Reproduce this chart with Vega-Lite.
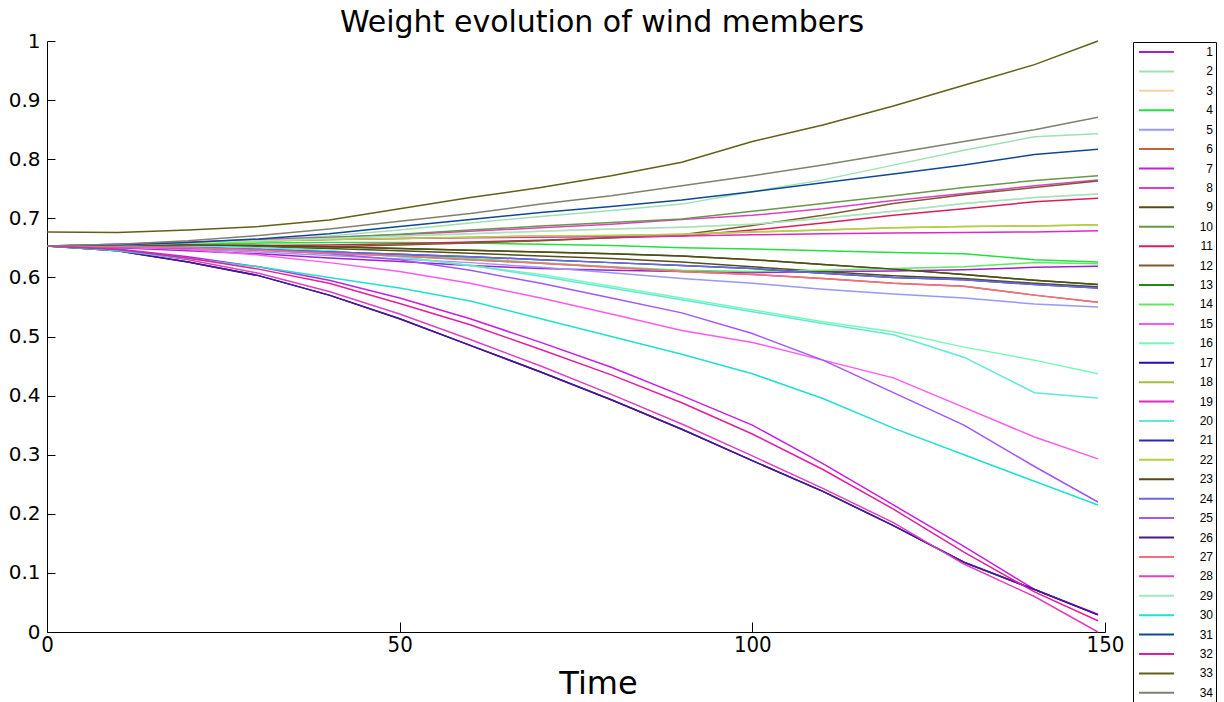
{
  "$schema": "https://vega.github.io/schema/vega-lite/v6.json",
  "width": 1058,
  "height": 591,
  "autosize": {"type": "none"},
  "padding": {"left": 47, "top": 41, "right": 119, "bottom": 70},
  "background": "white",
  "title": {"text": "Weight evolution of wind members", "font": "DejaVu Sans", "fontSize": 30, "fontWeight": "normal", "color": "black", "offset": -7, "dx": 26},
  "config": {"view": {"stroke": null}},
  "data": {"values": [
{"m":1,"t":0,"v":0.653},{"m":1,"t":10,"v":0.650},{"m":1,"t":20,"v":0.645},{"m":1,"t":30,"v":0.640},{"m":1,"t":40,"v":0.633},{"m":1,"t":50,"v":0.627},{"m":1,"t":60,"v":0.620},{"m":1,"t":70,"v":0.615},{"m":1,"t":80,"v":0.612},{"m":1,"t":90,"v":0.610},{"m":1,"t":100,"v":0.608},{"m":1,"t":110,"v":0.610},{"m":1,"t":120,"v":0.611},{"m":1,"t":130,"v":0.613},{"m":1,"t":140,"v":0.617},{"m":1,"t":149,"v":0.619},
{"m":2,"t":0,"v":0.653},{"m":2,"t":10,"v":0.655},{"m":2,"t":20,"v":0.658},{"m":2,"t":30,"v":0.663},{"m":2,"t":40,"v":0.670},{"m":2,"t":50,"v":0.680},{"m":2,"t":60,"v":0.692},{"m":2,"t":70,"v":0.703},{"m":2,"t":80,"v":0.713},{"m":2,"t":90,"v":0.724},{"m":2,"t":100,"v":0.745},{"m":2,"t":110,"v":0.765},{"m":2,"t":120,"v":0.790},{"m":2,"t":130,"v":0.815},{"m":2,"t":140,"v":0.838},{"m":2,"t":149,"v":0.843},
{"m":3,"t":0,"v":0.653},{"m":3,"t":10,"v":0.655},{"m":3,"t":20,"v":0.658},{"m":3,"t":30,"v":0.662},{"m":3,"t":40,"v":0.666},{"m":3,"t":50,"v":0.670},{"m":3,"t":60,"v":0.674},{"m":3,"t":70,"v":0.678},{"m":3,"t":80,"v":0.682},{"m":3,"t":90,"v":0.685},{"m":3,"t":100,"v":0.690},{"m":3,"t":110,"v":0.700},{"m":3,"t":120,"v":0.712},{"m":3,"t":130,"v":0.725},{"m":3,"t":140,"v":0.735},{"m":3,"t":149,"v":0.741},
{"m":4,"t":0,"v":0.653},{"m":4,"t":10,"v":0.655},{"m":4,"t":20,"v":0.657},{"m":4,"t":30,"v":0.658},{"m":4,"t":40,"v":0.659},{"m":4,"t":50,"v":0.659},{"m":4,"t":60,"v":0.658},{"m":4,"t":70,"v":0.656},{"m":4,"t":80,"v":0.654},{"m":4,"t":90,"v":0.650},{"m":4,"t":100,"v":0.648},{"m":4,"t":110,"v":0.645},{"m":4,"t":120,"v":0.642},{"m":4,"t":130,"v":0.640},{"m":4,"t":140,"v":0.630},{"m":4,"t":149,"v":0.626},
{"m":5,"t":0,"v":0.653},{"m":5,"t":10,"v":0.651},{"m":5,"t":20,"v":0.648},{"m":5,"t":30,"v":0.643},{"m":5,"t":40,"v":0.637},{"m":5,"t":50,"v":0.631},{"m":5,"t":60,"v":0.625},{"m":5,"t":70,"v":0.617},{"m":5,"t":80,"v":0.608},{"m":5,"t":90,"v":0.598},{"m":5,"t":100,"v":0.590},{"m":5,"t":110,"v":0.580},{"m":5,"t":120,"v":0.572},{"m":5,"t":130,"v":0.565},{"m":5,"t":140,"v":0.555},{"m":5,"t":149,"v":0.550},
{"m":6,"t":0,"v":0.653},{"m":6,"t":10,"v":0.652},{"m":6,"t":20,"v":0.650},{"m":6,"t":30,"v":0.646},{"m":6,"t":40,"v":0.641},{"m":6,"t":50,"v":0.636},{"m":6,"t":60,"v":0.630},{"m":6,"t":70,"v":0.624},{"m":6,"t":80,"v":0.617},{"m":6,"t":90,"v":0.610},{"m":6,"t":100,"v":0.605},{"m":6,"t":110,"v":0.598},{"m":6,"t":120,"v":0.590},{"m":6,"t":130,"v":0.585},{"m":6,"t":140,"v":0.570},{"m":6,"t":149,"v":0.558},
{"m":7,"t":0,"v":0.653},{"m":7,"t":10,"v":0.648},{"m":7,"t":20,"v":0.635},{"m":7,"t":30,"v":0.618},{"m":7,"t":40,"v":0.595},{"m":7,"t":50,"v":0.565},{"m":7,"t":60,"v":0.530},{"m":7,"t":70,"v":0.490},{"m":7,"t":80,"v":0.448},{"m":7,"t":90,"v":0.400},{"m":7,"t":100,"v":0.350},{"m":7,"t":110,"v":0.285},{"m":7,"t":120,"v":0.215},{"m":7,"t":130,"v":0.145},{"m":7,"t":140,"v":0.072},{"m":7,"t":149,"v":0.030},
{"m":8,"t":0,"v":0.653},{"m":8,"t":10,"v":0.656},{"m":8,"t":20,"v":0.660},{"m":8,"t":30,"v":0.664},{"m":8,"t":40,"v":0.668},{"m":8,"t":50,"v":0.672},{"m":8,"t":60,"v":0.678},{"m":8,"t":70,"v":0.684},{"m":8,"t":80,"v":0.690},{"m":8,"t":90,"v":0.698},{"m":8,"t":100,"v":0.705},{"m":8,"t":110,"v":0.716},{"m":8,"t":120,"v":0.730},{"m":8,"t":130,"v":0.742},{"m":8,"t":140,"v":0.755},{"m":8,"t":149,"v":0.765},
{"m":9,"t":0,"v":0.653},{"m":9,"t":10,"v":0.654},{"m":9,"t":20,"v":0.654},{"m":9,"t":30,"v":0.652},{"m":9,"t":40,"v":0.649},{"m":9,"t":50,"v":0.645},{"m":9,"t":60,"v":0.641},{"m":9,"t":70,"v":0.636},{"m":9,"t":80,"v":0.632},{"m":9,"t":90,"v":0.626},{"m":9,"t":100,"v":0.618},{"m":9,"t":110,"v":0.610},{"m":9,"t":120,"v":0.603},{"m":9,"t":130,"v":0.598},{"m":9,"t":140,"v":0.590},{"m":9,"t":149,"v":0.584},
{"m":10,"t":0,"v":0.653},{"m":10,"t":10,"v":0.655},{"m":10,"t":20,"v":0.658},{"m":10,"t":30,"v":0.662},{"m":10,"t":40,"v":0.667},{"m":10,"t":50,"v":0.673},{"m":10,"t":60,"v":0.680},{"m":10,"t":70,"v":0.687},{"m":10,"t":80,"v":0.693},{"m":10,"t":90,"v":0.699},{"m":10,"t":100,"v":0.712},{"m":10,"t":110,"v":0.725},{"m":10,"t":120,"v":0.738},{"m":10,"t":130,"v":0.752},{"m":10,"t":140,"v":0.764},{"m":10,"t":149,"v":0.772},
{"m":11,"t":0,"v":0.653},{"m":11,"t":10,"v":0.653},{"m":11,"t":20,"v":0.653},{"m":11,"t":30,"v":0.654},{"m":11,"t":40,"v":0.655},{"m":11,"t":50,"v":0.657},{"m":11,"t":60,"v":0.660},{"m":11,"t":70,"v":0.663},{"m":11,"t":80,"v":0.667},{"m":11,"t":90,"v":0.670},{"m":11,"t":100,"v":0.680},{"m":11,"t":110,"v":0.692},{"m":11,"t":120,"v":0.705},{"m":11,"t":130,"v":0.716},{"m":11,"t":140,"v":0.728},{"m":11,"t":149,"v":0.734},
{"m":12,"t":0,"v":0.653},{"m":12,"t":10,"v":0.652},{"m":12,"t":20,"v":0.651},{"m":12,"t":30,"v":0.651},{"m":12,"t":40,"v":0.652},{"m":12,"t":50,"v":0.655},{"m":12,"t":60,"v":0.658},{"m":12,"t":70,"v":0.662},{"m":12,"t":80,"v":0.667},{"m":12,"t":90,"v":0.672},{"m":12,"t":100,"v":0.688},{"m":12,"t":110,"v":0.705},{"m":12,"t":120,"v":0.725},{"m":12,"t":130,"v":0.740},{"m":12,"t":140,"v":0.752},{"m":12,"t":149,"v":0.763},
{"m":13,"t":0,"v":0.653},{"m":13,"t":10,"v":0.654},{"m":13,"t":20,"v":0.655},{"m":13,"t":30,"v":0.654},{"m":13,"t":40,"v":0.652},{"m":13,"t":50,"v":0.649},{"m":13,"t":60,"v":0.646},{"m":13,"t":70,"v":0.643},{"m":13,"t":80,"v":0.640},{"m":13,"t":90,"v":0.636},{"m":13,"t":100,"v":0.630},{"m":13,"t":110,"v":0.622},{"m":13,"t":120,"v":0.614},{"m":13,"t":130,"v":0.605},{"m":13,"t":140,"v":0.595},{"m":13,"t":149,"v":0.588},
{"m":14,"t":0,"v":0.653},{"m":14,"t":10,"v":0.652},{"m":14,"t":20,"v":0.650},{"m":14,"t":30,"v":0.647},{"m":14,"t":40,"v":0.643},{"m":14,"t":50,"v":0.638},{"m":14,"t":60,"v":0.632},{"m":14,"t":70,"v":0.625},{"m":14,"t":80,"v":0.618},{"m":14,"t":90,"v":0.612},{"m":14,"t":100,"v":0.610},{"m":14,"t":110,"v":0.612},{"m":14,"t":120,"v":0.615},{"m":14,"t":130,"v":0.618},{"m":14,"t":140,"v":0.625},{"m":14,"t":149,"v":0.623},
{"m":15,"t":0,"v":0.653},{"m":15,"t":10,"v":0.652},{"m":15,"t":20,"v":0.647},{"m":15,"t":30,"v":0.638},{"m":15,"t":40,"v":0.625},{"m":15,"t":50,"v":0.610},{"m":15,"t":60,"v":0.590},{"m":15,"t":70,"v":0.565},{"m":15,"t":80,"v":0.538},{"m":15,"t":90,"v":0.510},{"m":15,"t":100,"v":0.490},{"m":15,"t":110,"v":0.460},{"m":15,"t":120,"v":0.430},{"m":15,"t":130,"v":0.380},{"m":15,"t":140,"v":0.330},{"m":15,"t":149,"v":0.293},
{"m":16,"t":0,"v":0.653},{"m":16,"t":10,"v":0.654},{"m":16,"t":20,"v":0.653},{"m":16,"t":30,"v":0.650},{"m":16,"t":40,"v":0.645},{"m":16,"t":50,"v":0.635},{"m":16,"t":60,"v":0.620},{"m":16,"t":70,"v":0.605},{"m":16,"t":80,"v":0.585},{"m":16,"t":90,"v":0.565},{"m":16,"t":100,"v":0.545},{"m":16,"t":110,"v":0.525},{"m":16,"t":120,"v":0.508},{"m":16,"t":130,"v":0.482},{"m":16,"t":140,"v":0.460},{"m":16,"t":149,"v":0.437},
{"m":17,"t":0,"v":0.653},{"m":17,"t":10,"v":0.645},{"m":17,"t":20,"v":0.626},{"m":17,"t":30,"v":0.603},{"m":17,"t":40,"v":0.570},{"m":17,"t":50,"v":0.530},{"m":17,"t":60,"v":0.485},{"m":17,"t":70,"v":0.440},{"m":17,"t":80,"v":0.393},{"m":17,"t":90,"v":0.343},{"m":17,"t":100,"v":0.290},{"m":17,"t":110,"v":0.238},{"m":17,"t":120,"v":0.180},{"m":17,"t":130,"v":0.118},{"m":17,"t":140,"v":0.072},{"m":17,"t":149,"v":0.029},
{"m":18,"t":0,"v":0.653},{"m":18,"t":10,"v":0.655},{"m":18,"t":20,"v":0.658},{"m":18,"t":30,"v":0.661},{"m":18,"t":40,"v":0.664},{"m":18,"t":50,"v":0.666},{"m":18,"t":60,"v":0.668},{"m":18,"t":70,"v":0.670},{"m":18,"t":80,"v":0.671},{"m":18,"t":90,"v":0.673},{"m":18,"t":100,"v":0.677},{"m":18,"t":110,"v":0.680},{"m":18,"t":120,"v":0.684},{"m":18,"t":130,"v":0.686},{"m":18,"t":140,"v":0.687},{"m":18,"t":149,"v":0.689},
{"m":19,"t":0,"v":0.653},{"m":19,"t":10,"v":0.656},{"m":19,"t":20,"v":0.659},{"m":19,"t":30,"v":0.662},{"m":19,"t":40,"v":0.664},{"m":19,"t":50,"v":0.666},{"m":19,"t":60,"v":0.667},{"m":19,"t":70,"v":0.668},{"m":19,"t":80,"v":0.669},{"m":19,"t":90,"v":0.670},{"m":19,"t":100,"v":0.672},{"m":19,"t":110,"v":0.674},{"m":19,"t":120,"v":0.675},{"m":19,"t":130,"v":0.676},{"m":19,"t":140,"v":0.677},{"m":19,"t":149,"v":0.679},
{"m":20,"t":0,"v":0.653},{"m":20,"t":10,"v":0.654},{"m":20,"t":20,"v":0.653},{"m":20,"t":30,"v":0.650},{"m":20,"t":40,"v":0.645},{"m":20,"t":50,"v":0.635},{"m":20,"t":60,"v":0.620},{"m":20,"t":70,"v":0.602},{"m":20,"t":80,"v":0.582},{"m":20,"t":90,"v":0.562},{"m":20,"t":100,"v":0.542},{"m":20,"t":110,"v":0.522},{"m":20,"t":120,"v":0.503},{"m":20,"t":130,"v":0.465},{"m":20,"t":140,"v":0.405},{"m":20,"t":149,"v":0.396},
{"m":21,"t":0,"v":0.653},{"m":21,"t":10,"v":0.652},{"m":21,"t":20,"v":0.650},{"m":21,"t":30,"v":0.647},{"m":21,"t":40,"v":0.643},{"m":21,"t":50,"v":0.639},{"m":21,"t":60,"v":0.635},{"m":21,"t":70,"v":0.630},{"m":21,"t":80,"v":0.625},{"m":21,"t":90,"v":0.620},{"m":21,"t":100,"v":0.615},{"m":21,"t":110,"v":0.607},{"m":21,"t":120,"v":0.600},{"m":21,"t":130,"v":0.596},{"m":21,"t":140,"v":0.588},{"m":21,"t":149,"v":0.582},
{"m":22,"t":0,"v":0.653},{"m":22,"t":10,"v":0.655},{"m":22,"t":20,"v":0.658},{"m":22,"t":30,"v":0.661},{"m":22,"t":40,"v":0.664},{"m":22,"t":50,"v":0.666},{"m":22,"t":60,"v":0.668},{"m":22,"t":70,"v":0.670},{"m":22,"t":80,"v":0.671},{"m":22,"t":90,"v":0.673},{"m":22,"t":100,"v":0.677},{"m":22,"t":110,"v":0.680},{"m":22,"t":120,"v":0.684},{"m":22,"t":130,"v":0.686},{"m":22,"t":140,"v":0.687},{"m":22,"t":149,"v":0.689},
{"m":23,"t":0,"v":0.653},{"m":23,"t":10,"v":0.654},{"m":23,"t":20,"v":0.655},{"m":23,"t":30,"v":0.654},{"m":23,"t":40,"v":0.652},{"m":23,"t":50,"v":0.649},{"m":23,"t":60,"v":0.646},{"m":23,"t":70,"v":0.643},{"m":23,"t":80,"v":0.640},{"m":23,"t":90,"v":0.636},{"m":23,"t":100,"v":0.630},{"m":23,"t":110,"v":0.622},{"m":23,"t":120,"v":0.614},{"m":23,"t":130,"v":0.605},{"m":23,"t":140,"v":0.595},{"m":23,"t":149,"v":0.588},
{"m":24,"t":0,"v":0.653},{"m":24,"t":10,"v":0.652},{"m":24,"t":20,"v":0.650},{"m":24,"t":30,"v":0.647},{"m":24,"t":40,"v":0.643},{"m":24,"t":50,"v":0.639},{"m":24,"t":60,"v":0.635},{"m":24,"t":70,"v":0.630},{"m":24,"t":80,"v":0.625},{"m":24,"t":90,"v":0.620},{"m":24,"t":100,"v":0.615},{"m":24,"t":110,"v":0.607},{"m":24,"t":120,"v":0.600},{"m":24,"t":130,"v":0.596},{"m":24,"t":140,"v":0.588},{"m":24,"t":149,"v":0.582},
{"m":25,"t":0,"v":0.653},{"m":25,"t":10,"v":0.653},{"m":25,"t":20,"v":0.651},{"m":25,"t":30,"v":0.647},{"m":25,"t":40,"v":0.640},{"m":25,"t":50,"v":0.630},{"m":25,"t":60,"v":0.612},{"m":25,"t":70,"v":0.590},{"m":25,"t":80,"v":0.565},{"m":25,"t":90,"v":0.540},{"m":25,"t":100,"v":0.505},{"m":25,"t":110,"v":0.460},{"m":25,"t":120,"v":0.405},{"m":25,"t":130,"v":0.350},{"m":25,"t":140,"v":0.280},{"m":25,"t":149,"v":0.220},
{"m":26,"t":0,"v":0.653},{"m":26,"t":10,"v":0.645},{"m":26,"t":20,"v":0.626},{"m":26,"t":30,"v":0.603},{"m":26,"t":40,"v":0.570},{"m":26,"t":50,"v":0.530},{"m":26,"t":60,"v":0.485},{"m":26,"t":70,"v":0.440},{"m":26,"t":80,"v":0.393},{"m":26,"t":90,"v":0.343},{"m":26,"t":100,"v":0.290},{"m":26,"t":110,"v":0.238},{"m":26,"t":120,"v":0.180},{"m":26,"t":130,"v":0.118},{"m":26,"t":140,"v":0.072},{"m":26,"t":149,"v":0.029},
{"m":27,"t":0,"v":0.653},{"m":27,"t":10,"v":0.652},{"m":27,"t":20,"v":0.650},{"m":27,"t":30,"v":0.646},{"m":27,"t":40,"v":0.641},{"m":27,"t":50,"v":0.636},{"m":27,"t":60,"v":0.630},{"m":27,"t":70,"v":0.624},{"m":27,"t":80,"v":0.617},{"m":27,"t":90,"v":0.610},{"m":27,"t":100,"v":0.605},{"m":27,"t":110,"v":0.598},{"m":27,"t":120,"v":0.590},{"m":27,"t":130,"v":0.585},{"m":27,"t":140,"v":0.570},{"m":27,"t":149,"v":0.558},
{"m":28,"t":0,"v":0.653},{"m":28,"t":10,"v":0.647},{"m":28,"t":20,"v":0.630},{"m":28,"t":30,"v":0.607},{"m":28,"t":40,"v":0.576},{"m":28,"t":50,"v":0.538},{"m":28,"t":60,"v":0.495},{"m":28,"t":70,"v":0.450},{"m":28,"t":80,"v":0.402},{"m":28,"t":90,"v":0.352},{"m":28,"t":100,"v":0.298},{"m":28,"t":110,"v":0.243},{"m":28,"t":120,"v":0.185},{"m":28,"t":130,"v":0.115},{"m":28,"t":140,"v":0.060},{"m":28,"t":149,"v":0.000},
{"m":29,"t":0,"v":0.653},{"m":29,"t":10,"v":0.655},{"m":29,"t":20,"v":0.658},{"m":29,"t":30,"v":0.662},{"m":29,"t":40,"v":0.666},{"m":29,"t":50,"v":0.670},{"m":29,"t":60,"v":0.674},{"m":29,"t":70,"v":0.678},{"m":29,"t":80,"v":0.682},{"m":29,"t":90,"v":0.685},{"m":29,"t":100,"v":0.690},{"m":29,"t":110,"v":0.700},{"m":29,"t":120,"v":0.712},{"m":29,"t":130,"v":0.725},{"m":29,"t":140,"v":0.735},{"m":29,"t":149,"v":0.741},
{"m":30,"t":0,"v":0.653},{"m":30,"t":10,"v":0.645},{"m":30,"t":20,"v":0.632},{"m":30,"t":30,"v":0.618},{"m":30,"t":40,"v":0.600},{"m":30,"t":50,"v":0.582},{"m":30,"t":60,"v":0.560},{"m":30,"t":70,"v":0.530},{"m":30,"t":80,"v":0.500},{"m":30,"t":90,"v":0.470},{"m":30,"t":100,"v":0.437},{"m":30,"t":110,"v":0.395},{"m":30,"t":120,"v":0.345},{"m":30,"t":130,"v":0.300},{"m":30,"t":140,"v":0.255},{"m":30,"t":149,"v":0.215},
{"m":31,"t":0,"v":0.653},{"m":31,"t":10,"v":0.655},{"m":31,"t":20,"v":0.659},{"m":31,"t":30,"v":0.665},{"m":31,"t":40,"v":0.674},{"m":31,"t":50,"v":0.686},{"m":31,"t":60,"v":0.698},{"m":31,"t":70,"v":0.710},{"m":31,"t":80,"v":0.720},{"m":31,"t":90,"v":0.731},{"m":31,"t":100,"v":0.745},{"m":31,"t":110,"v":0.760},{"m":31,"t":120,"v":0.775},{"m":31,"t":130,"v":0.790},{"m":31,"t":140,"v":0.808},{"m":31,"t":149,"v":0.817},
{"m":32,"t":0,"v":0.653},{"m":32,"t":10,"v":0.647},{"m":32,"t":20,"v":0.633},{"m":32,"t":30,"v":0.614},{"m":32,"t":40,"v":0.590},{"m":32,"t":50,"v":0.556},{"m":32,"t":60,"v":0.520},{"m":32,"t":70,"v":0.478},{"m":32,"t":80,"v":0.435},{"m":32,"t":90,"v":0.388},{"m":32,"t":100,"v":0.335},{"m":32,"t":110,"v":0.275},{"m":32,"t":120,"v":0.208},{"m":32,"t":130,"v":0.135},{"m":32,"t":140,"v":0.068},{"m":32,"t":149,"v":0.019},
{"m":33,"t":0,"v":0.677},{"m":33,"t":10,"v":0.676},{"m":33,"t":20,"v":0.680},{"m":33,"t":30,"v":0.686},{"m":33,"t":40,"v":0.697},{"m":33,"t":50,"v":0.716},{"m":33,"t":60,"v":0.735},{"m":33,"t":70,"v":0.752},{"m":33,"t":80,"v":0.772},{"m":33,"t":90,"v":0.795},{"m":33,"t":100,"v":0.830},{"m":33,"t":110,"v":0.858},{"m":33,"t":120,"v":0.890},{"m":33,"t":130,"v":0.925},{"m":33,"t":140,"v":0.960},{"m":33,"t":149,"v":1.000},
{"m":34,"t":0,"v":0.653},{"m":34,"t":10,"v":0.656},{"m":34,"t":20,"v":0.662},{"m":34,"t":30,"v":0.671},{"m":34,"t":40,"v":0.682},{"m":34,"t":50,"v":0.695},{"m":34,"t":60,"v":0.708},{"m":34,"t":70,"v":0.724},{"m":34,"t":80,"v":0.738},{"m":34,"t":90,"v":0.755},{"m":34,"t":100,"v":0.772},{"m":34,"t":110,"v":0.790},{"m":34,"t":120,"v":0.810},{"m":34,"t":130,"v":0.830},{"m":34,"t":140,"v":0.850},{"m":34,"t":149,"v":0.871}
  ]},
  "mark": {"type": "line", "strokeWidth": 1.5, "clip": false},
  "encoding": {
    "x": {"field": "t", "type": "quantitative",
      "scale": {"domain": [0, 150], "nice": false, "zero": false},
      "axis": {"values": [0, 50, 100, 150], "grid": false, "domainColor": "black", "tickColor": "black", "tickSize": -10, "labelPadding": 12, "labelFont": "DejaVu Sans Condensed, Liberation Sans", "labelFontSize": 22, "labelColor": "black", "labelFlush": false, "title": "Time", "titleFont": "DejaVu Sans", "titleFontSize": 32, "titleFontWeight": "normal", "titleColor": "black", "titleX": 551, "titleY": 61, "titleBaseline": "alphabetic", "titleAlign": "center", "titleAnchor": null}},
    "y": {"field": "v", "type": "quantitative",
      "scale": {"domain": [0, 1], "nice": false},
      "axis": {"values": [0, 0.1, 0.2, 0.3, 0.4, 0.5, 0.6, 0.7, 0.8, 0.9, 1], "format": "~g", "grid": false, "domainColor": "black", "tickColor": "black", "tickSize": -8, "labelPadding": 15, "labelFont": "DejaVu Sans", "labelFontSize": 20, "labelColor": "black", "labelFlush": false, "title": null}},
    "color": {"field": "m", "type": "nominal",
      "scale": {"domain": [1,2,3,4,5,6,7,8,9,10,11,12,13,14,15,16,17,18,19,20,21,22,23,24,25,26,27,28,29,30,31,32,33,34],
        "range": ["#a020d0","#a0e0b4","#f8d0a8","#22e040","#9898f8","#c0643c","#c81ee0","#e040c8","#545018","#689848","#e01c58","#7c5c2c","#208818","#60e860","#ff58f0","#78f8b8","#2808b0","#a0c040","#e028c8","#60e8d8","#2828c0","#b8d040","#584818","#6868e0","#a058f8","#481890","#f07080","#e040c0","#a0e8c0","#20e0d0","#104894","#e0209c","#606018","#808070"]},
      "legend": {"orient": "none", "legendX": 1086, "legendY": 1, "title": null, "symbolLimit": 40, "symbolType": "M-2.92,0H2.92", "symbolSize": 144, "symbolStrokeWidth": 2, "symbolOffset": 13.5, "labelFont": "Liberation Sans", "labelFontSize": 12, "labelColor": "black", "labelAlign": "right", "labelOffset": 49.5, "rowPadding": 6.42, "padding": 3, "strokeColor": "black", "fillColor": "white", "cornerRadius": 0}}
  }
}
